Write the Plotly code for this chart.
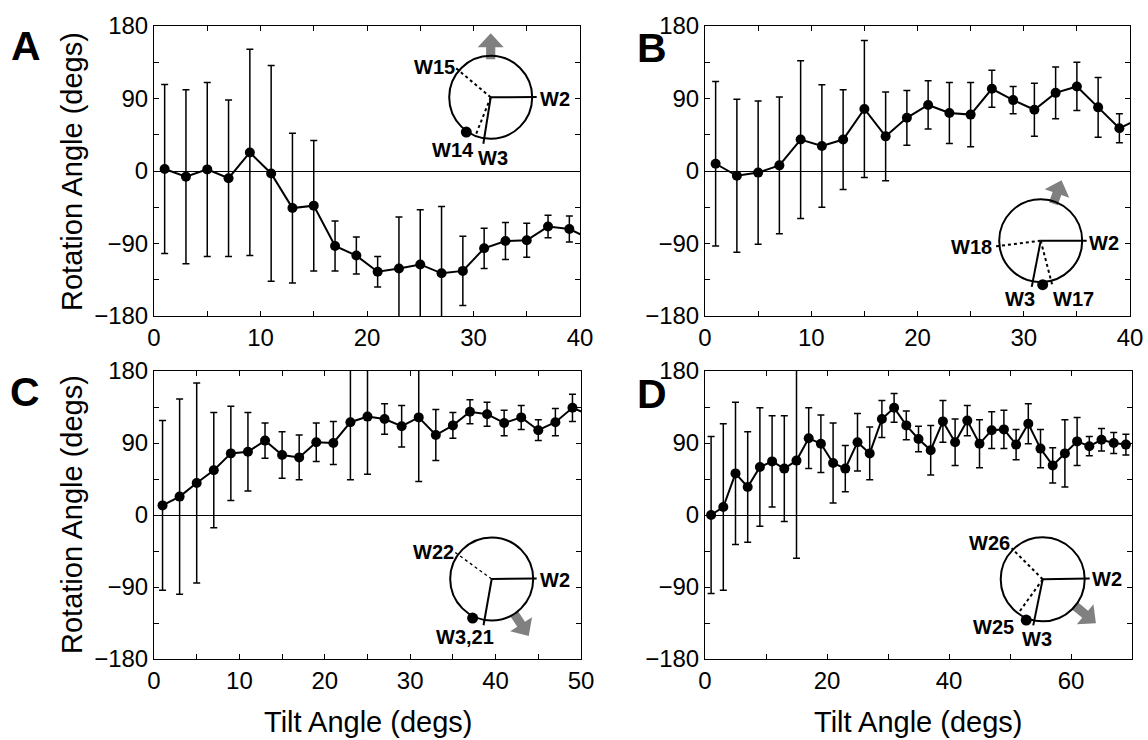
import math
import plotly.graph_objects as go

W, H = 1148, 740

# ---------------- data ----------------
tilt_A = [1, 3, 5, 7, 9, 11, 13, 15, 17, 19, 21, 23, 25, 27, 29, 31, 33, 35, 37, 39, 41]
rot_A = [2.5, -7, 2, -9, 23, -3, -46, -43, -93, -105, -125, -121, -116, -127, -124, -96, -87, -86, -69, -72, -85]
err_A = [105, 108, 108, 97, 128, 134, 93, 81, 31, 23, 19, 64, 68, 83, 43, 25, 23, 21, 14, 16, 15]

tilt_B = [1, 3, 5, 7, 9, 11, 13, 15, 17, 19, 21, 23, 25, 27, 29, 31, 33, 35, 37, 39, 41]
rot_B = [9, -6, -2, 7, 39, 31, 39, 77, 43, 66, 82, 72, 70, 102, 88, 76, 97, 105, 79, 53, 66]
err_B = [102, 95, 89, 85, 98, 76, 62, 85, 55, 34, 30, 38, 40, 23, 17, 33, 32, 30, 37, 18, 18]

tilt_C = [1, 3, 5, 7, 9, 11, 13, 15, 17, 19, 21, 23, 25, 27, 29, 31, 33, 35, 37, 39, 41, 43, 45, 47, 49, 51]
rot_C = [12, 23, 40, 56, 77, 79, 93, 75, 72, 91, 90, 116, 123, 120, 111, 122, 100, 112, 129, 126, 115, 122, 106, 116, 134, 125]
err_C = [106, 122, 125, 72, 59, 49, 22, 29, 28, 24, 27, 72, 72, 19, 26, 80, 32, 16, 15, 15, 16, 15, 13, 17, 17, 17]

tilt_D = [1, 3, 5, 7, 9, 11, 13, 15, 17, 19, 21, 23, 25, 27, 29, 31, 33, 35, 37, 39,
          41, 43, 45, 47, 49, 51, 53, 55, 57, 59, 61, 63, 65, 67, 69]
rot_D = [0, 10, 52, 35, 60, 67, 58, 68, 96, 89, 65, 58, 91, 77, 120, 134, 112, 95, 81, 117,
         91, 118, 89, 106, 107, 88, 114, 83, 62, 77, 92, 86, 94, 90, 88]
err_D = [98, 104, 89, 69, 74, 57, 66, 122, 38, 36, 50, 29, 36, 33, 23, 18, 18, 16, 31, 26,
         29, 19, 30, 23, 24, 19, 25, 24, 22, 42, 30, 12, 14, 13, 13]

panels = [
    # letter, x, y, err, xmax, xdtick, domain px (x0,x1,y0,y1)
    ("A", tilt_A, rot_A, err_A, 40, 10, (154, 580, 26, 316)),
    ("B", tilt_B, rot_B, err_B, 40, 10, (705, 1130, 26, 316)),
    ("C", tilt_C, rot_C, err_C, 50, 10, (154, 581, 371, 659)),
    ("D", tilt_D, rot_D, err_D, 70, 20, (705, 1132, 371, 659)),
]

FONT = "Liberation Sans, Arial, sans-serif"


def px(x):
    return x / W


def py(y):
    return 1 - y / H


fig = go.Figure()
layout = dict(
    width=W, height=H, margin=dict(l=0, r=0, t=0, b=0, autoexpand=False),
    paper_bgcolor="white", plot_bgcolor="white", showlegend=False,
    font=dict(family=FONT, color="black"),
)

for i, (letter, xs, ys, es, xmax, xd, (x0, x1, y0, y1)) in enumerate(panels):
    n = "" if i == 0 else str(i + 1)
    fig.add_trace(go.Scatter(
        x=xs, y=ys, mode="lines+markers",
        line=dict(color="black", width=2),
        marker=dict(color="black", size=10),
        error_y=dict(type="data", array=es, color="black", thickness=1.5, width=3.5),
        xaxis="x" + n, yaxis="y" + n, hoverinfo="skip",
    ))
    layout["xaxis" + n] = dict(
        domain=[px(x0), px(x1)], range=[0, xmax], anchor="y" + n, automargin=False,
        showgrid=False, zeroline=False, showline=True, linecolor="black", linewidth=1,
        mirror="ticks", ticks="inside", ticklen=5, tickcolor="black", dtick=xd, tick0=0,
        minor=dict(ticks="inside", ticklen=5, dtick=xd / 2, tickcolor="black"),
        tickfont=dict(size=24, family=FONT, color="black"),
    )
    layout["yaxis" + n] = dict(
        domain=[py(y1), py(y0)], range=[-180, 180], anchor="x" + n, automargin=False,
        showgrid=False, zeroline=True, zerolinecolor="black", zerolinewidth=1,
        showline=True, linecolor="black", linewidth=1,
        mirror="ticks", ticks="inside", ticklen=5, tickcolor="black", dtick=90, tick0=0,
        minor=dict(ticks="inside", ticklen=5, dtick=45, tickcolor="black"),
        tickfont=dict(size=24, family=FONT, color="black"),
    )

fig.update_layout(**layout)

annotations = []
shapes = []

# panel letters
for letter, lx, ly in [("A", 26, 46), ("B", 652, 48), ("C", 25, 392), ("D", 652, 394)]:
    annotations.append(dict(text="<b>%s</b>" % letter, x=px(lx), y=py(ly), xref="paper", yref="paper",
                            showarrow=False, xanchor="center", yanchor="middle",
                            font=dict(size=41, family=FONT, color="black")))

# axis titles
for cy in [172, 515]:
    annotations.append(dict(text="Rotation Angle (degs)", x=px(72), y=py(cy), xref="paper", yref="paper",
                            showarrow=False, textangle=-90, xanchor="center", yanchor="middle",
                            font=dict(size=29, family=FONT, color="black")))
for cx in [368, 918]:
    annotations.append(dict(text="Tilt Angle (degs)", x=px(cx), y=py(722), xref="paper", yref="paper",
                            showarrow=False, xanchor="center", yanchor="middle",
                            font=dict(size=29, family=FONT, color="black")))

# ---------------- insets (decorative diagrams) ----------------
insets = [
    dict(c=(490.7, 97.3), r=41.5,
         spokes=[(0.5, 46, "solid", 2), (-99, 47, "solid", 2), (140, 45, "dot", 2), (-111.7, 42, "dot", 2)],
         dot=(-125, 42.5), arrow=(90, 40, 26),
         labels=[("W15", 434, 67), ("W2", 555, 99), ("W14", 453, 150), ("W3", 493, 158)]),
    dict(c=(1040.7, 240.7), r=41.5,
         spokes=[(0, 46, "solid", 2), (-172.8, 48, "dot", 2), (-101, 47, "solid", 2), (-75.4, 47, "dot", 2)],
         dot=(-87.4, 44), arrow=(71, 41, 25),
         labels=[("W18", 971, 247), ("W2", 1104, 243), ("W3", 1020, 299), ("W17", 1073, 299)]),
    dict(c=(491.7, 579), r=41.5,
         spokes=[(0.5, 45, "solid", 2), (144, 46.5, "dot", 1.3), (-100, 47, "solid", 2)],
         dot=(-116, 43.5), arrow=(-57, 43, 27),
         labels=[("W22", 433, 552), ("W2", 555, 580), ("W3,21", 465, 637)]),
    dict(c=(1042.7, 579.3), r=42,
         spokes=[(1, 47, "solid", 2), (135, 44, "dot", 2), (-125.7, 42, "dot", 2), (-101.6, 47, "solid", 2)],
         dot=(-112, 44), arrow=(-39.5, 43, 28),
         labels=[("W26", 989, 543), ("W2", 1107, 579), ("W25", 993, 627), ("W3", 1037, 639)]),
]


def polar(c, ang, rad):
    a = math.radians(ang)
    return c[0] + rad * math.cos(a), c[1] - rad * math.sin(a)


for ins in insets:
    c, r = ins["c"], ins["r"]
    ang, r0, L = ins["arrow"]
    a = math.radians(ang)
    u = (math.cos(a), -math.sin(a))
    nrm = (-u[1], u[0])
    hw, hh, lh = 4.6, 13, 14
    ls = L - lh
    S = polar(c, ang, r0 - 2)
    pts = []
    for along, side in [(0, hw), (ls, hw), (ls, hh), (L, 0), (ls, -hh), (ls, -hw), (0, -hw)]:
        pts.append((S[0] + u[0] * along + nrm[0] * side, S[1] + u[1] * along + nrm[1] * side))
    path = "M " + " L ".join("%.5f,%.5f" % (px(p[0]), py(p[1])) for p in pts) + " Z"
    shapes.append(dict(type="path", path=path, xref="paper", yref="paper",
                       fillcolor="#808080", line=dict(width=0), layer="above"))
    shapes.append(dict(type="circle", xref="paper", yref="paper",
                       x0=px(c[0] - r), x1=px(c[0] + r), y0=py(c[1] + r), y1=py(c[1] - r),
                       line=dict(color="black", width=2), fillcolor="rgba(0,0,0,0)", layer="above"))
    for sang, slen, dash, wdt in ins["spokes"]:
        e = polar(c, sang, slen)
        shapes.append(dict(type="line", xref="paper", yref="paper",
                           x0=px(c[0]), y0=py(c[1]), x1=px(e[0]), y1=py(e[1]),
                           line=dict(color="black", width=wdt, dash=dash), layer="above"))
    dang, drad = ins["dot"]
    d = polar(c, dang, drad)
    shapes.append(dict(type="circle", xref="paper", yref="paper",
                       x0=px(d[0] - 5.5), x1=px(d[0] + 5.5), y0=py(d[1] + 5.5), y1=py(d[1] - 5.5),
                       line=dict(color="black", width=0), fillcolor="black", layer="above"))
    for txt, lx, ly in ins["labels"]:
        annotations.append(dict(text="<b>%s</b>" % txt, x=px(lx), y=py(ly), xref="paper", yref="paper",
                                showarrow=False, xanchor="center", yanchor="middle",
                                font=dict(size=20, family=FONT, color="black")))

fig.update_layout(annotations=annotations, shapes=shapes)
fig.write_html("out.html")
